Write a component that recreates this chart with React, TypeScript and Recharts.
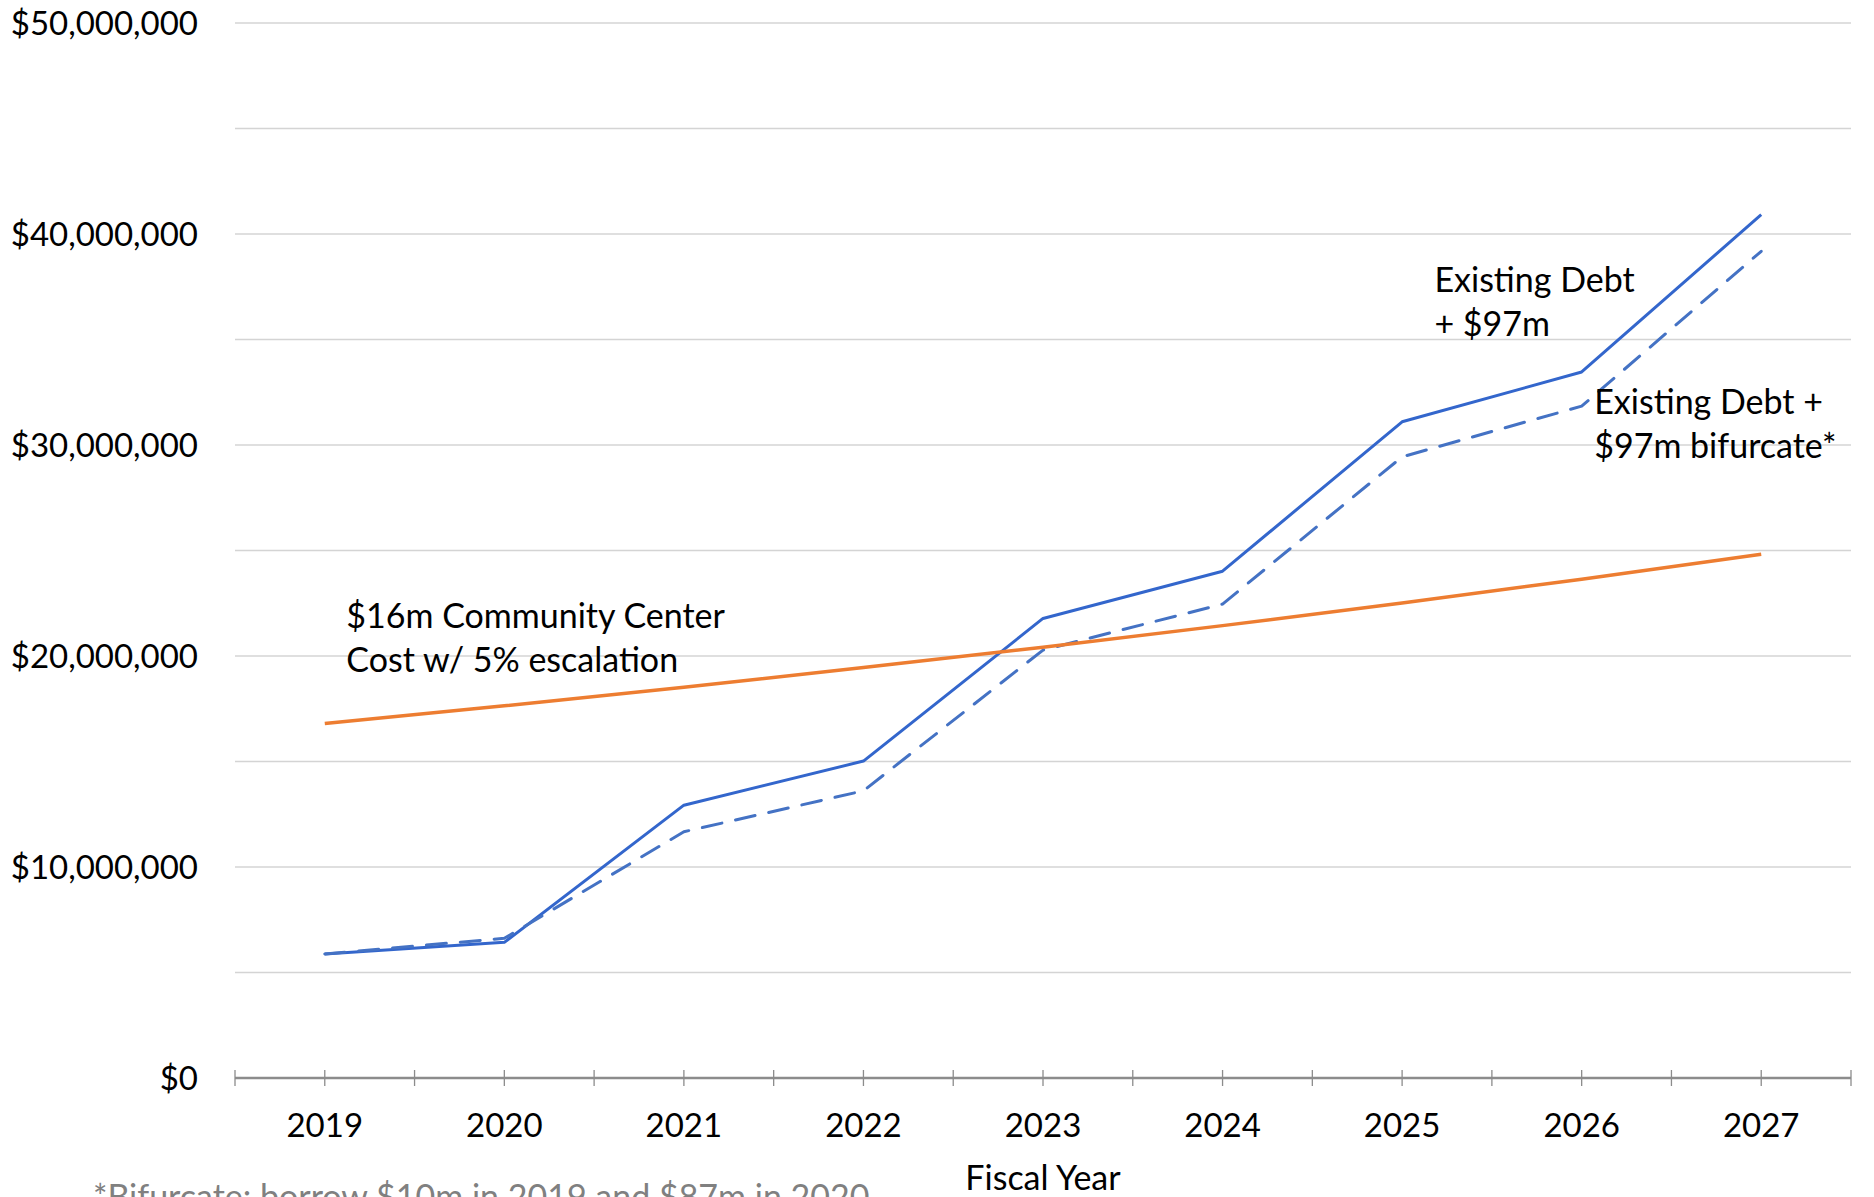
import React from "react";
import {
  LineChart,
  Line,
  XAxis,
  YAxis,
  CartesianGrid,
  ReferenceDot,
  Label,
} from "recharts";

const years = ["2019", "2020", "2021", "2022", "2023", "2024", "2025", "2026", "2027"];

// Annual debt service, existing debt plus the $97m issue
const debtPlus97m = [5880000, 6430000, 12930000, 15020000, 21780000, 24020000, 31100000, 33460000, 40920000];

// Same issue split into two borrowings
const debtPlus97mBifurcate = [5880000, 6620000, 11670000, 13610000, 20280000, 22460000, 29440000, 31840000, 39180000];

// $16m community center cost, escalated 5% a year
const communityCenter = [16800000, 17640000, 18520000, 19450000, 20420000, 21440000, 22510000, 23640000, 24820000];

const yTicks = [0, 5000000, 10000000, 15000000, 20000000, 25000000, 30000000, 35000000, 40000000, 45000000, 50000000];

// Text boxes, anchored at the baseline of their first line (x = year index)
const notes = [
  { x: 0.12, y: 21320000, lines: ["$16m Community Center", "Cost w/ 5% escalation"] },
  { x: 6.18, y: 37240000, lines: ["Existing Debt", "+ $97m"] },
  { x: 7.07, y: 31460000, lines: ["Existing Debt +", "$97m bifurcate*"] },
];

const FONT = "Lato, 'Open Sans', sans-serif";

const chartData = years.map((year, i) => ({
  idx: i,
  year,
  debt: debtPlus97m[i],
  bifurcate: debtPlus97mBifurcate[i],
  center: communityCenter[i],
}));

// tick marks sit on category boundaries and on category centres
const xTicks = [...years.flatMap((_, i) => [i - 0.5, i]), years.length - 0.5];

const money = (v: number) => "$" + v.toLocaleString("en-US");

function YearTick(props: any) {
  const { x, y, payload } = props;
  const v = payload.value as number;
  return (
    <g>
      <line x1={x} x2={x} y1={y - 8} y2={y + 8} stroke="#8c8c8c" strokeWidth={1.3} />
      {Number.isInteger(v) && (
        <text x={x} y={y + 59} textAnchor="middle" fontFamily={FONT} fontSize={33} fill="#000">
          {years[v]}
        </text>
      )}
    </g>
  );
}

function MoneyTick(props: any) {
  const { x, y, payload } = props;
  const v = payload.value as number;
  if (v % 10000000 !== 0) return <g />;
  return (
    <text x={x} y={y + 12} textAnchor="end" fontFamily={FONT} fontSize={33} fill="#000">
      {money(v)}
    </text>
  );
}

function NoteText({ viewBox, lines }: { viewBox?: any; lines: string[] }) {
  if (!viewBox) return null;
  const x = viewBox.x + viewBox.width / 2;
  const y = viewBox.y + viewBox.height / 2;
  return (
    <text fontFamily={FONT} fontSize={34} fill="#000">
      {lines.map((line, i) => (
        <tspan key={line} x={x} y={y + i * 44}>
          {line}
        </tspan>
      ))}
    </text>
  );
}

export default function App() {
  return (
    <div style={{ position: "absolute", left: 0, top: 0, background: "#fff" }}>
      <LineChart
        width={1874}
        height={1197}
        data={chartData}
        margin={{ top: 23, right: 23, bottom: 0, left: 0 }}
      >
        <CartesianGrid vertical={false} stroke="#d4d4d4" strokeWidth={1.5} />
        <XAxis
          dataKey="idx"
          type="number"
          domain={[-0.5, 8.5]}
          ticks={xTicks}
          interval={0}
          height={119}
          tickSize={0}
          tickMargin={0}
          tickLine={false}
          axisLine={{ stroke: "#8c8c8c", strokeWidth: 2.5 }}
          tick={<YearTick />}
        >
          <Label
            content={(p: any) => (
              <g>
                <text
                  x={p.viewBox.x + p.viewBox.width / 2}
                  y={p.viewBox.y + 112}
                  textAnchor="middle"
                  fontFamily={FONT}
                  fontSize={34}
                  fill="#000"
                >
                  Fiscal Year
                </text>
                <text
                  x={p.viewBox.x - 142}
                  y={p.viewBox.y + 131}
                  fontFamily={FONT}
                  fontSize={34}
                  fill="#808080"
                >
                  *Bifurcate: borrow $10m in 2019 and $87m in 2020
                </text>
              </g>
            )}
          />
        </XAxis>
        <YAxis
          type="number"
          domain={[0, 50000000]}
          ticks={yTicks}
          interval={0}
          width={235}
          tickSize={0}
          tickMargin={37}
          tickLine={false}
          axisLine={false}
          tick={<MoneyTick />}
        />
        <Line
          dataKey="debt"
          stroke="#3366cc"
          strokeWidth={3}
          strokeLinejoin="round"
          dot={false}
          activeDot={false}
          isAnimationActive={false}
        />
        <Line
          dataKey="bifurcate"
          stroke="#4472c4"
          strokeWidth={3}
          strokeDasharray="20 14"
          strokeLinecap="round"
          strokeLinejoin="round"
          dot={false}
          activeDot={false}
          isAnimationActive={false}
        />
        <Line
          dataKey="center"
          stroke="#ed7d31"
          strokeWidth={3.5}
          strokeLinejoin="round"
          dot={false}
          activeDot={false}
          isAnimationActive={false}
        />
        {notes.map((n) => (
          <ReferenceDot
            key={n.lines[0]}
            x={n.x}
            y={n.y}
            r={1}
            fill="none"
            stroke="none"
            label={(p: any) => <NoteText viewBox={p.viewBox} lines={n.lines} />}
          />
        ))}
      </LineChart>
    </div>
  );
}
